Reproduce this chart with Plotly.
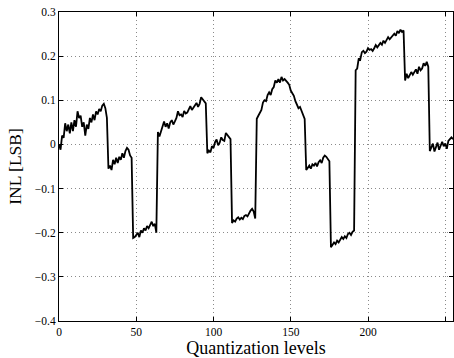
import plotly.graph_objects as go

levels = list(range(256))

seg_a = [0.000, -0.012, 0.020, 0.015, 0.048, 0.030, 0.045, 0.025, 0.050, 0.030, 0.055, 0.040,
         0.075, 0.060, 0.065, 0.040, 0.050, 0.020, 0.045, 0.035, 0.060, 0.050, 0.068, 0.055,
         0.075, 0.068, 0.080, 0.075, 0.088, 0.092, 0.082, 0.060]
seg_b = [-0.055, -0.048, -0.058, -0.035, -0.045, -0.030, -0.042, -0.028, -0.035, -0.020,
         -0.030, -0.015, -0.008, -0.012, -0.025, -0.030]
seg_c = [-0.212, -0.210, -0.205, -0.200, -0.210, -0.195, -0.200, -0.190, -0.195, -0.185,
         -0.190, -0.180, -0.175, -0.185, -0.180, -0.200]
seg_d = [0.028, 0.018, 0.030, 0.042, 0.052, 0.040, 0.048, 0.036, 0.050, 0.055, 0.045, 0.052,
         0.060, 0.075, 0.066, 0.068, 0.062, 0.076, 0.070, 0.072, 0.080, 0.087, 0.078, 0.084,
         0.090, 0.094, 0.085, 0.092, 0.107, 0.103, 0.098, 0.093]
seg_e = [-0.020, -0.014, -0.018, -0.004, -0.008, 0.005, 0.011, -0.002, 0.004, 0.016, 0.010,
         0.008, 0.026, 0.022, 0.018, 0.012]
seg_f = [-0.178, -0.172, -0.175, -0.168, -0.165, -0.170, -0.166, -0.169, -0.162, -0.160,
         -0.163, -0.155, -0.150, -0.146, -0.152, -0.168]
seg_g = [0.058, 0.065, 0.070, 0.078, 0.095, 0.100, 0.098, 0.112, 0.118, 0.112, 0.125, 0.130,
         0.145, 0.140, 0.148, 0.140, 0.153, 0.145, 0.148, 0.145, 0.140, 0.135, 0.122, 0.116,
         0.110, 0.098, 0.090, 0.082, 0.085, 0.075, 0.068, 0.058]
seg_h = [-0.058, -0.052, -0.048, -0.055, -0.045, -0.048, -0.042, -0.050, -0.040, -0.036,
         -0.042, -0.030, -0.025, -0.028, -0.032, -0.038]
seg_i = [-0.233, -0.228, -0.222, -0.226, -0.218, -0.222, -0.215, -0.210, -0.214, -0.208,
         -0.212, -0.203, -0.200, -0.205, -0.198, -0.195]
seg_j = [0.168, 0.172, 0.195, 0.192, 0.209, 0.212, 0.207, 0.210, 0.218, 0.214, 0.216, 0.212,
         0.218, 0.225, 0.220, 0.224, 0.230, 0.226, 0.235, 0.230, 0.236, 0.243, 0.238, 0.242,
         0.248, 0.251, 0.246, 0.257, 0.252, 0.260, 0.255, 0.258]
seg_k = [0.145, 0.160, 0.150, 0.158, 0.164, 0.158, 0.166, 0.170, 0.160, 0.176, 0.168, 0.172,
         0.184, 0.178, 0.187, 0.176]
seg_l = [-0.015, -0.008, 0.002, -0.016, -0.005, 0.004, -0.012, 0.000, 0.006, -0.004, 0.002,
         -0.010, 0.008, 0.012, 0.016, 0.012]

inl = seg_a + seg_b + seg_c + seg_d + seg_e + seg_f + seg_g + seg_h + seg_i + seg_j + seg_k + seg_l

x_ticks = [0, 50, 100, 150, 200, 250]
y_ticks = [-0.4, -0.3, -0.2, -0.1, 0, 0.1, 0.2, 0.3]
y_tick_labels = ["\u22120.4", "\u22120.3", "\u22120.2", "\u22120.1", "0", "0.1", "0.2", "0.3"]

font_family = "Liberation Serif, Times New Roman, serif"

fig = go.Figure()
fig.add_trace(go.Scatter(x=levels, y=inl, mode="lines",
                         line=dict(color="black", width=1.8), showlegend=False))

axis_common = dict(
    showline=True, linecolor="black", linewidth=1, mirror="ticks",
    ticks="inside", ticklen=4, tickcolor="black",
    showgrid=True, gridcolor="#8a8a8a", griddash="1px,3px", gridwidth=1,
    zeroline=False,
    tickfont=dict(family=font_family, size=11.5, color="black"),
)

fig.update_xaxes(range=[0, 255], tickvals=x_ticks,
                 title=dict(text="Quantization levels", standoff=2,
                            font=dict(family=font_family, size=18, color="black")),
                 **axis_common)
fig.update_yaxes(range=[-0.4, 0.3], tickvals=y_ticks, ticktext=y_tick_labels,
                 title=dict(text="INL [LSB]", standoff=8,
                            font=dict(family=font_family, size=17.5, color="black")),
                 **axis_common)

fig.update_layout(
    width=454, height=358,
    margin=dict(l=59, r=1, t=12, b=37),
    paper_bgcolor="white", plot_bgcolor="white",
)

fig.write_html("out.html")
